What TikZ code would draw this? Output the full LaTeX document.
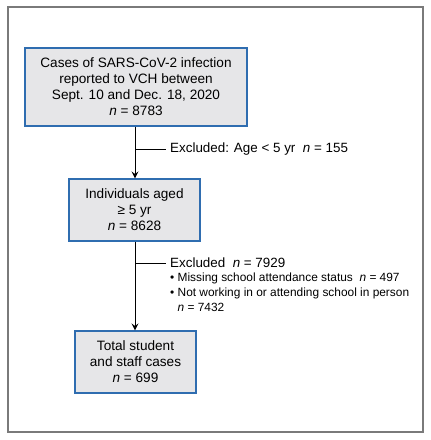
\documentclass[tikz,border=0pt]{standalone}
\usepackage{fontspec}
\setmainfont{Liberation Sans}
\usetikzlibrary{arrows.meta}
\definecolor{boxblue}{HTML}{2F6DB0}
\definecolor{boxfill}{HTML}{E6E6E8}
\definecolor{framegray}{HTML}{7A7A7A}
\begin{document}
\begin{tikzpicture}[x=1pt,y=-1pt,
  flowbox/.style={draw=boxblue,line width=1.1pt,fill=boxfill,align=center,inner sep=0pt,
    font=\fontsize{13.6}{16}\selectfont},
  excl/.style={anchor=west,inner sep=0pt,align=left,font=\fontsize{13.4}{16}\selectfont},
  small/.style={anchor=west,inner sep=0pt,align=left,font=\fontsize{11.9}{14}\selectfont},
  conn/.style={line width=0.9pt},
  arr/.style={conn,-{Stealth[length=7pt,width=7pt,inset=2.5pt]}}]
\useasboundingbox (0,0) rectangle (431,440);
\draw[framegray,line width=1.2pt] (8,7) rectangle (423,432);
\node[flowbox,minimum width=222pt,minimum height=78pt] (b1) at (136,87)
  {Cases of SARS-CoV-2 infection\\reported to VCH between\\Sept. 10 and Dec. 18, 2020\\\textit{n} = 8783};
\node[flowbox,minimum width=131pt,minimum height=62pt] (b2) at (134.5,210)
  {Individuals aged\\≥ 5 yr\\\textit{n} = 8628};
\node[flowbox,minimum width=121pt,minimum height=62pt] (b3) at (135.5,362)
  {Total student\\and staff cases\\\textit{n} = 699};
\coordinate (j1) at (135,149);
\coordinate (j2) at (135,263);
\node[excl] (e1) at (170,149) {Excluded: Age < 5 yr\ \ \textit{n} = 155};
\node[excl] (e2) at (170,263) {Excluded\ \ \textit{n} = 7929};
\node[small] (e3) at (170,278) {• Missing school attendance status\ \ \textit{n} = 497};
\node[small] (e4) at (170,293) {• Not working in or attending school in person};
\node[small] (e5) at (177.5,307) {\textit{n} = 7432};
\draw[arr] (b1.south -| j1) -- (b2.north -| j1);
\draw[arr] (b2.south -| j2) -- (b3.north -| j2);
\draw[conn] (j1) -- ([xshift=-4pt]e1.west);
\draw[conn] (j2) -- ([xshift=-4pt]e2.west);
\end{tikzpicture}
\end{document}
